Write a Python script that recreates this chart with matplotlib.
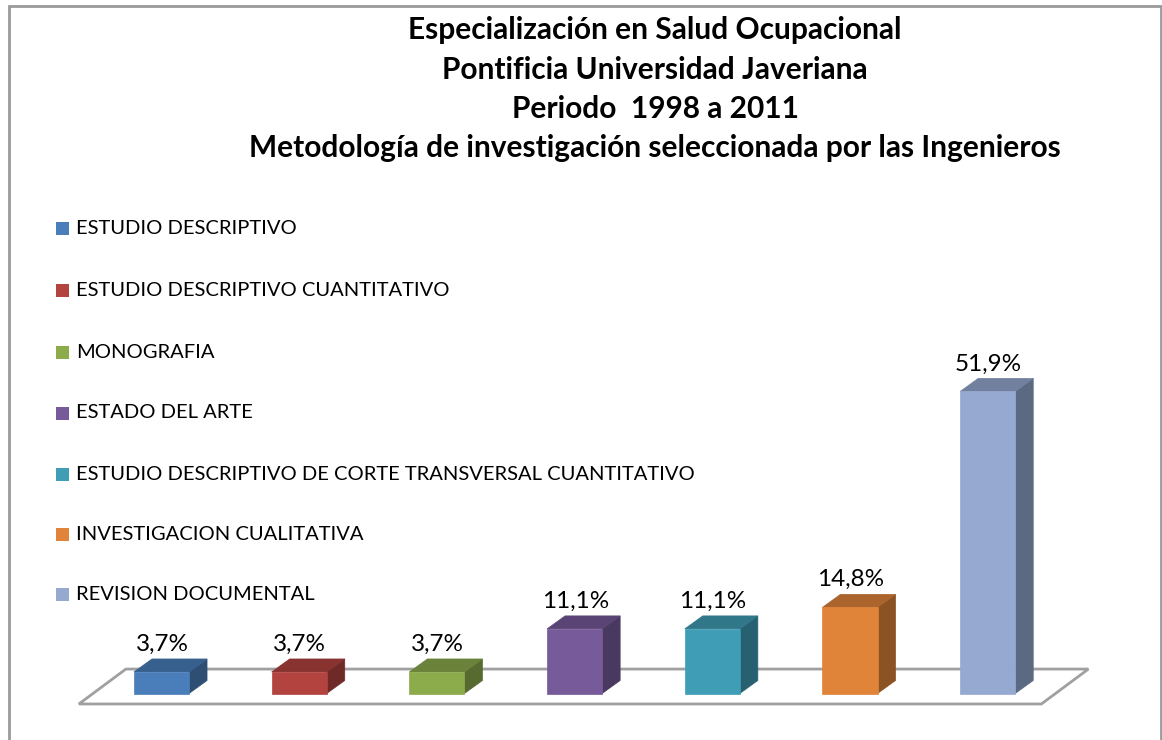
import matplotlib
matplotlib.use("Agg")
import matplotlib.pyplot as plt
from matplotlib.patches import Polygon, Rectangle
import matplotlib.colors as mcolors
import numpy as np

categories = [
    "ESTUDIO DESCRIPTIVO",
    "ESTUDIO DESCRIPTIVO CUANTITATIVO",
    "MONOGRAFIA",
    "ESTADO DEL ARTE",
    "ESTUDIO DESCRIPTIVO DE CORTE TRANSVERSAL CUANTITATIVO",
    "INVESTIGACION CUALITATIVA",
    "REVISION DOCUMENTAL",
]
values = [3.7, 3.7, 3.7, 11.1, 11.1, 14.8, 51.9]
labels = ["3,7%", "3,7%", "3,7%", "11,1%", "11,1%", "14,8%", "51,9%"]
colors = ["#4A7EBB", "#B3433F", "#8CAB4B", "#765A9A", "#3F9DB6", "#E0843A", "#95A9D1"]
title_lines = [
    "Especialización en Salud Ocupacional",
    "Pontificia Universidad Javeriana",
    "Periodo  1998 a 2011",
    "Metodología de investigación seleccionada por las Ingenieros",
]

W, H = 1162, 740
fig = plt.figure(figsize=(W / 100, H / 100), dpi=100)
fig.patch.set_facecolor("white")

# pixel mapping for the plot axes
px_per_cat = 137.7
x0_px = 161.5
px_per_pct = 5.82
y0_px = 693.5
ax = fig.add_axes([0, 0, 1, 1])
ax.set_xlim((0 - x0_px) / px_per_cat, (W - x0_px) / px_per_cat)
ax.set_ylim((y0_px - H) / px_per_pct, y0_px / px_per_pct)
ax.axis("off")

# figure border
fig.add_artist(Rectangle((9 / W, -0.01), (1161 - 9) / W, 1 - 6 / H + 0.01,
                         transform=fig.transFigure, fill=False,
                         edgecolor="#9A9A9A", linewidth=2.0))

# floor
n = len(values)
fl_front = -1.8
fl_back = 4.2
fl_dx = 47 / px_per_cat
floor = Polygon([(-0.6, fl_front), (n - 1 + 0.39, fl_front),
                 (n - 1 + 0.39 + fl_dx, fl_back), (-0.6 + fl_dx, fl_back)],
                closed=True, facecolor="white", edgecolor="#A0A0A0", linewidth=2.0, zorder=1)
ax.add_patch(floor)

bw = 0.40
dx = 18 / px_per_cat
dy = 13 / px_per_pct

def shade(c, f):
    r, g, b = mcolors.to_rgb(c)
    return (r * f, g * f, b * f)

for i, (v, c, lab) in enumerate(zip(values, colors, labels)):
    xl, xr = i - bw / 2, i + bw / 2
    front = Polygon([(xl, 0), (xr, 0), (xr, v), (xl, v)], closed=True,
                    facecolor=c, edgecolor=shade(c, 1.0), linewidth=0.5, zorder=3)
    top = Polygon([(xl, v), (xr, v), (xr + dx, v + dy), (xl + dx, v + dy)], closed=True,
                  facecolor=shade(c, 0.76), edgecolor=shade(c, 0.76), linewidth=0.5, zorder=3)
    side = Polygon([(xr, 0), (xr + dx, dy), (xr + dx, v + dy), (xr, v)], closed=True,
                   facecolor=shade(c, 0.62), edgecolor=shade(c, 0.62), linewidth=0.5, zorder=3)
    for p in (side, top, front):
        ax.add_patch(p)
    ax.text(i + 0.005, v + dy + 0.7, lab, ha="center", va="bottom",
            fontsize=17.5, family="Lato", color="black", zorder=4)

# title
title_y = [30, 70, 109, 148]
for t, y in zip(title_lines, title_y):
    fig.text(655 / W, 1 - y / H, t, ha="center", va="center",
             fontsize=21.5, fontweight="bold", family="Lato", color="black")

# legend
leg_y = [228, 290, 352, 413, 474, 534, 594]
for cat, c, y in zip(categories, colors, leg_y):
    fig.add_artist(Rectangle((56 / W, 1 - (y + 7) / H), 13 / W, 13 / H,
                             transform=fig.transFigure, facecolor=c, edgecolor="none"))
    fig.text(76 / W, 1 - y / H, cat, ha="left", va="center",
             fontsize=14.5, family="Lato", color="black")

fig.savefig("out.png", dpi=100, facecolor="white")
